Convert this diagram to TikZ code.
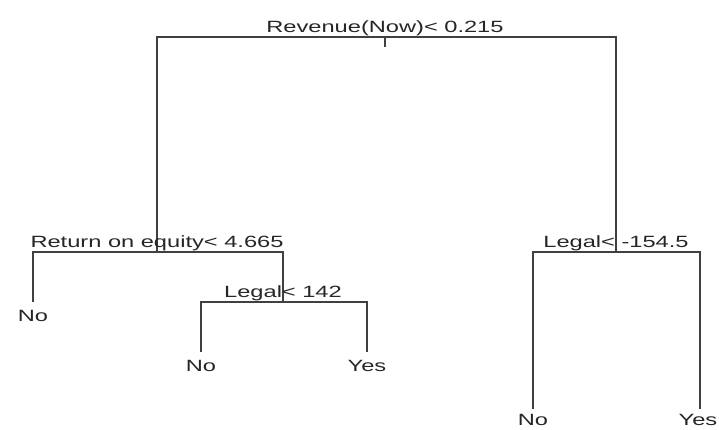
\documentclass[tikz,border=0pt]{standalone}
\usepackage{fontspec}
\setmainfont{Liberation Sans}[FakeStretch=1.45]
\usetikzlibrary{positioning}

\begin{document}
\begin{tikzpicture}[x=1pt,y=-1pt,line width=1.6pt,draw=black!75,
    split/.style={anchor=base,inner sep=0pt,text=black!85,font=\fontsize{16.3}{18}\selectfont},
    leaf/.style={inner sep=0pt,text=black!85,font=\fontsize{16.3}{18}\selectfont}]
    \useasboundingbox (0,0) rectangle (719,429);
    % splits
    \coordinate (RV) at (385,37);
    \coordinate (RE) at (157,252);
    \coordinate (LA) at (283,302);
    \coordinate (LB) at (616,252);
    % leaf ends
    \coordinate (REno)  at (33,302);
    \coordinate (LAno)  at (201,352);
    \coordinate (LAyes) at (367,352);
    \coordinate (LBno)  at (533,409);
    \coordinate (LByes) at (700,409);
    % branches
    \draw (RE) -- (RE |- RV) -- (LB |- RV) -- (LB);
    \draw (RV) -- ++(0,10);
    \draw (REno) -- (REno |- RE) -- (LA |- RE) -- (LA);
    \draw (LAno) -- (LAno |- LA) -- (LAyes |- LA) -- (LAyes);
    \draw (LBno) -- (LBno |- LB) -- (LByes |- LB) -- (LByes);
    % split labels
    \node[split] (tRV) at ([yshift=5pt]RV) {Revenue(Now)< 0.215};
    \node[split] (tRE) at ([yshift=5pt]RE) {Return on equity< 4.665};
    \node[split] (tLA) at ([yshift=5pt]LA) {Legal< 142};
    \node[split] (tLB) at ([yshift=5pt]LB) {Legal< -154.5};
    % leaves
    \node[leaf] (lREno)  [below=7pt of REno]  {No};
    \node[leaf] (lLAno)  [below=7pt of LAno]  {No};
    \node[leaf] (lLAyes) [below=7pt of LAyes] {Yes};
    \node[leaf] (lLBno)  [below=4pt of LBno]  {No};
    \node[leaf,xshift=-2pt] (lLByes) [below=4pt of LByes] {Yes};
\end{tikzpicture}
\end{document}
